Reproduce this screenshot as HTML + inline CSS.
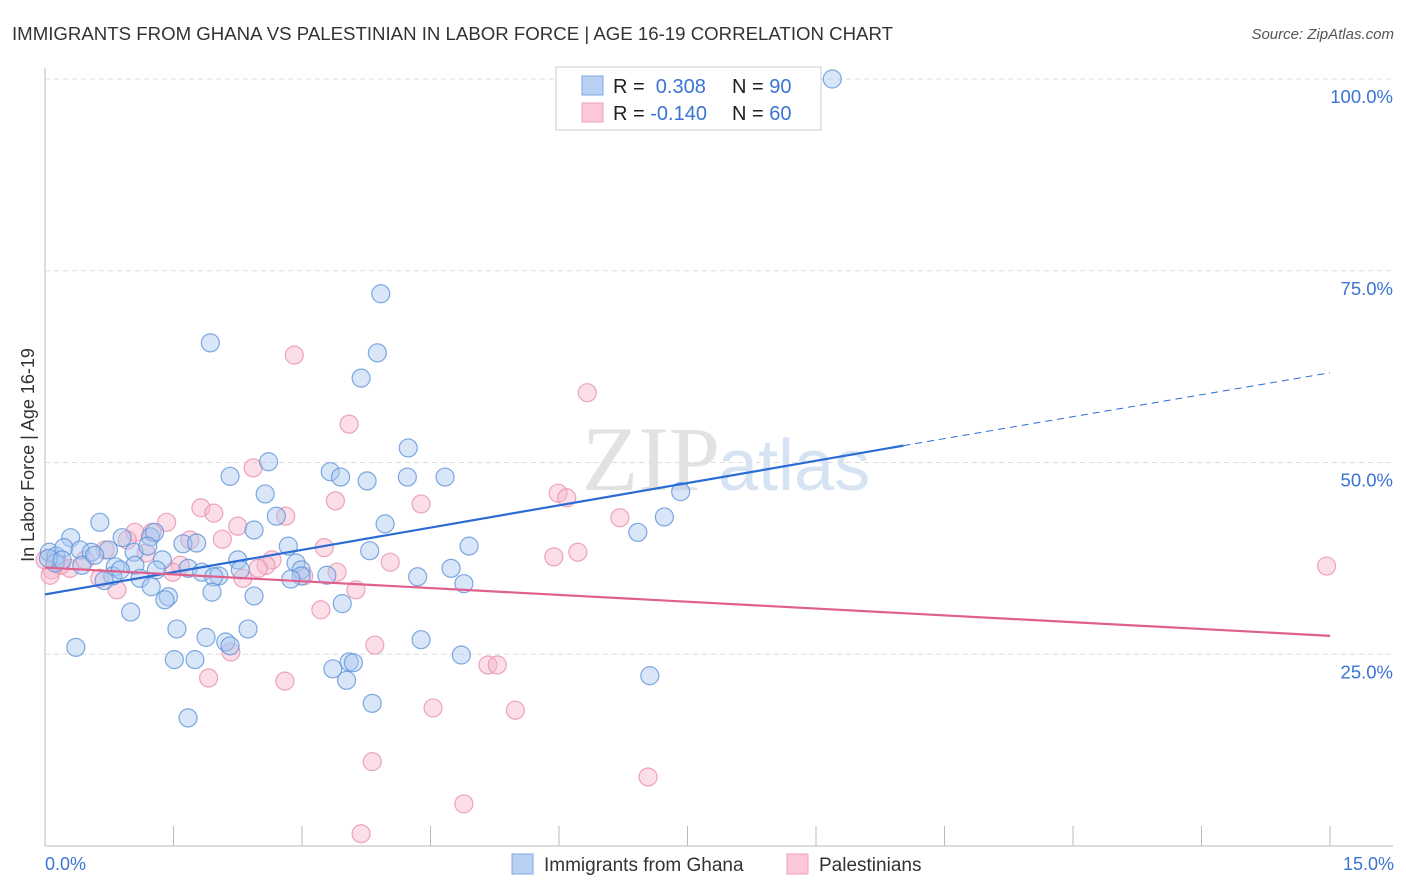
<!DOCTYPE html>
<html><head><meta charset="utf-8">
<style>
body{margin:0;background:#fff;font-family:"Liberation Sans",sans-serif}
svg{display:block}
</style></head>
<body>
<svg id="chart" width="1406" height="892">
<text x="12" y="40" font-size="18" fill="#333" textLength="881" lengthAdjust="spacingAndGlyphs">IMMIGRANTS FROM GHANA VS PALESTINIAN IN LABOR FORCE | AGE 16-19 CORRELATION CHART</text>
<text x="1394" y="39" font-size="15" fill="#555" font-style="italic" text-anchor="end">Source: ZipAtlas.com</text>
<text x="720" y="490" font-size="92" fill="#e2e2e2" text-anchor="end" font-family="Liberation Serif">ZIP</text>
<text x="718" y="490" font-size="72" fill="#d5e3f3">atlas</text>
<g id="grid"></g>
<g id="axes"></g>
<g id="pts"></g>
<g id="lines"></g>
<text transform="translate(34,455) rotate(-90)" font-size="18" fill="#333" text-anchor="middle">In Labor Force | Age 16-19</text>
<text x="45" y="870" font-size="18" fill="#3b74d4">0.0%</text>
<text x="1394" y="870" font-size="18" fill="#3b74d4" text-anchor="end">15.0%</text>
<g>
<rect x="556" y="67" width="265" height="63" fill="#fff" stroke="#ccc"/>
<rect x="582" y="76" width="21" height="19" fill="#b8d1f3" stroke="#7da6e3"/>
<rect x="582" y="103" width="21" height="19" fill="#fcc8d8" stroke="#eca0b8"/>
<text x="613" y="93" font-size="20" fill="#222">R = <tspan fill="#3b74d4">&#160;0.308</tspan><tspan x="732">N = </tspan><tspan fill="#3b74d4">90</tspan></text>
<text x="613" y="120" font-size="20" fill="#222">R = <tspan fill="#3b74d4">-0.140</tspan><tspan x="732">N = </tspan><tspan fill="#3b74d4">60</tspan></text>
</g>
<g>
<rect x="512" y="854" width="21" height="20" fill="#b8d1f3" stroke="#7da6e3"/>
<text x="544" y="871" font-size="19" fill="#333">Immigrants from Ghana</text>
<rect x="787" y="854" width="21" height="20" fill="#fcc8d8" stroke="#eca0b8"/>
<text x="819" y="871" font-size="19" fill="#333">Palestinians</text>
</g>
</svg>
<script>
const yTicks=[25,50,75,100];
const yTickLabels=["25.0%","50.0%","75.0%","100.0%"];
const xTicks=[0,1.5,3,4.5,6,7.5,9,10.5,12,13.5,15];
const ghanaX=[9.19,3.92,1.93,3.88,3.69,4.24,2.61,3.33,2.16,3.45,3.76,4.23,4.67,7.42,2.57,7.23,0.64,2.70,3.97,6.92,0.30,0.90,1.23,1.28,1.61,1.77,2.44,4.95,2.84,3.79,0.05,0.13,0.22,0.41,0.54,0.74,1.04,1.2,0.12,0.43,0.82,1.05,1.37,2.25,2.93,1.67,2.28,1.30,1.83,0.79,1.11,2.03,1.97,2.99,2.99,2.87,3.29,4.35,4.74,0.69,4.89,1.24,1.95,2.44,3.47,1.44,1.00,1.40,1.54,2.37,1.88,2.11,4.39,0.36,4.86,1.51,1.75,3.55,3.6,3.36,3.52,7.06,3.82,1.67,2.16,0.04,0.2,0.58,0.88];
const ghanaY=[100,72.0,65.6,64.3,61.0,51.9,50.1,48.8,48.2,48.1,47.6,48.1,48.1,46.2,45.9,42.9,42.2,43.0,42.0,40.9,40.2,40.2,40.3,40.9,39.4,39.5,41.2,39.1,39.1,38.5,38.3,37.8,38.9,38.6,38.3,38.6,38.3,39.1,36.9,36.6,36.4,36.6,37.3,37.3,36.9,36.2,36.0,36.0,35.7,35.2,34.9,35.2,35.1,36.0,35.2,34.8,35.3,35.1,36.2,34.6,34.2,33.8,33.1,32.6,31.6,32.5,30.5,32.1,28.3,28.3,27.2,26.6,26.9,25.9,24.9,24.3,24.3,24.0,23.9,23.1,21.6,22.2,18.6,16.7,26.1,37.5,37.3,37.9,36.0];
const palX=[2.91,6.33,3.55,2.43,5.99,6.09,3.39,4.39,1.82,1.97,2.81,6.71,1.42,1.05,1.25,2.25,0.96,1.69,2.07,3.26,6.22,5.94,0.70,1.18,4.03,2.65,2.58,2.49,14.96,0.08,0.29,0.47,0.18,1.58,1.49,3.41,3.02,2.31,0.64,0.84,3.63,3.22,3.85,2.17,1.91,2.80,5.17,5.28,4.53,5.49,3.82,7.04,4.89,3.69,0.06,0.0];
const palY=[64.0,59.1,55.0,49.3,46.0,45.4,45.0,44.6,44.1,43.4,43.0,42.8,42.2,40.9,40.9,41.7,39.9,39.9,40.0,38.9,38.3,37.7,38.6,38.2,37.0,37.3,36.6,36.2,36.5,36.0,36.2,37.3,36.6,36.6,35.7,35.7,35.2,34.9,34.9,33.4,33.4,30.8,26.2,25.3,21.9,21.5,23.6,23.6,18.0,17.7,11.0,9.0,5.5,1.6,35.3,37.3];
const ghanaTrend=[[0,32.8],[10.02,52.2]];
const ghanaTrendDash=[[10.02,52.2],[15,61.7]];
const palTrend=[[0,36.3],[15,27.4]];

const NS="http://www.w3.org/2000/svg";
const xs=v=>45+v/15*1285;
const ys=v=>846-v/100*767;
function mk(tag,attrs,parent){const e=document.createElementNS(NS,tag);for(const k in attrs)e.setAttribute(k,attrs[k]);parent.appendChild(e);return e;}
const grid=document.getElementById('grid'),axes=document.getElementById('axes'),pts=document.getElementById('pts'),lines=document.getElementById('lines');
yTicks.forEach((t,i)=>{
  const l=mk('line',{x1:45,x2:1393,y1:ys(t),y2:ys(t),stroke:'#ddd','stroke-dasharray':'5,4'},grid);
  
  
  const tx=mk('text',{x:1393,y:ys(t)+24,'font-size':18.5,fill:'#3b74d4','text-anchor':'end'},axes);
  tx.textContent=yTickLabels[i];
  
  
});
const ya=mk('line',{x1:45,x2:45,y1:68,y2:846,stroke:'#bbb'},axes);


const xa=mk('line',{x1:45,x2:1393,y1:846,y2:846,stroke:'#bbb'},axes);


xTicks.forEach(t=>{
  const l=mk('line',{x1:xs(t),x2:xs(t),y1:826,y2:846,stroke:'#bbb'},axes);
  
  
});
function drawPts(X,Y,fill,stroke,name){
  X.forEach((x,i)=>{
    const c=mk('circle',{cx:xs(x),cy:ys(Y[i]),r:9,fill:fill,'fill-opacity':0.45,stroke:stroke,'stroke-width':1.2,'stroke-opacity':0.8},pts);
    
    
  });
}
drawPts(palX,palY,'#f7b6cb','#e890ad','palestinian-point');
drawPts(ghanaX,ghanaY,'#a9c8f0','#5f93da','ghana-point');
function ln(p,col,w,dash,name){
  const a={x1:xs(p[0][0]),y1:ys(p[0][1]),x2:xs(p[1][0]),y2:ys(p[1][1]),stroke:col,'stroke-width':w};
  if(dash)a['stroke-dasharray']=dash;
  const l=mk('line',a,lines);
  
  
}
ln(ghanaTrend,'#2a6bd4',2.2,null,'ghana-trend-line');
ln(ghanaTrendDash,'#2a6bd4',1,'7,5','ghana-trend-extension');
ln(palTrend,'#e0608c',2.2,null,'palestinian-trend-line');
</script>
</body></html>
